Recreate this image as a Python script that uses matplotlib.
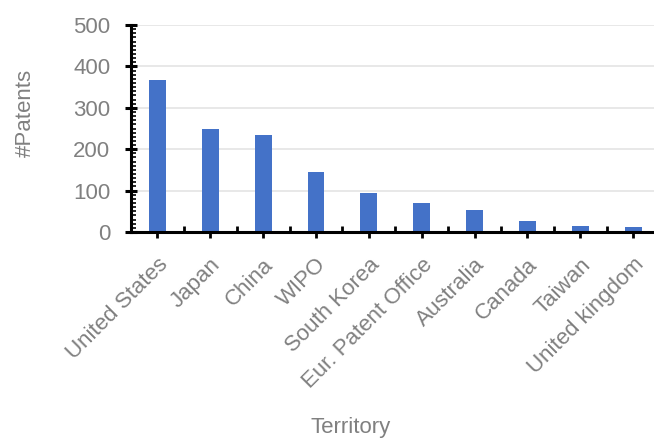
import matplotlib
matplotlib.use("Agg")
import matplotlib.pyplot as plt
from matplotlib.ticker import MultipleLocator, FixedLocator

territories = ["United States", "Japan", "China", "WIPO", "South Korea",
               "Eur. Patent Office", "Australia", "Canada", "Taiwan", "United kingdom"]
patents = [367, 248, 235, 144, 93, 70, 52, 26, 14, 11]
y_ticks = [0, 100, 200, 300, 400, 500]

plt.rcParams["font.family"] = ["Liberation Sans", "DejaVu Sans"]
text_gray = "#808080"

fig = plt.figure(figsize=(6.54, 4.43), dpi=100)
ax = fig.add_axes([131 / 654, 211 / 443, 528.5 / 654, 207 / 443])

x = list(range(len(territories)))
ax.bar(x, patents, width=0.32, color="#4472c8", zorder=2)

ax.set_xlim(-0.5, len(territories) - 0.5)
ax.set_ylim(0, 500)

ax.set_yticks(y_ticks)
ax.yaxis.set_minor_locator(MultipleLocator(10))
ax.grid(axis="y", color="#e4e4e4", linewidth=1.2, zorder=0)

ax.set_xticks(x)
ax.set_xticklabels(territories, rotation=45, ha="right", rotation_mode="anchor")
ax.xaxis.set_minor_locator(FixedLocator([i + 0.5 for i in x]))

for side in ("top", "right"):
    ax.spines[side].set_visible(False)
for side in ("left", "bottom"):
    ax.spines[side].set_linewidth(2.2)
    ax.spines[side].set_color("black")

ax.tick_params(axis="y", which="major", direction="inout", length=8, width=2.2,
               labelsize=16, labelcolor=text_gray, pad=11)
ax.tick_params(axis="y", which="minor", direction="in", length=3.5, width=1.2)
ax.tick_params(axis="x", which="major", direction="out", length=4, width=2,
               labelsize=16, labelcolor=text_gray, pad=12)
ax.tick_params(axis="x", which="minor", direction="in", length=4, width=2)

fig.text(351 / 654, 1 - 427 / 443, "Territory", ha="center", va="center",
         fontsize=16, color=text_gray)
fig.text(25 / 654, 1 - 113 / 443, "#Patents", ha="center", va="center",
         rotation=90, fontsize=16, color=text_gray)

fig.savefig("out.png", dpi=100)
